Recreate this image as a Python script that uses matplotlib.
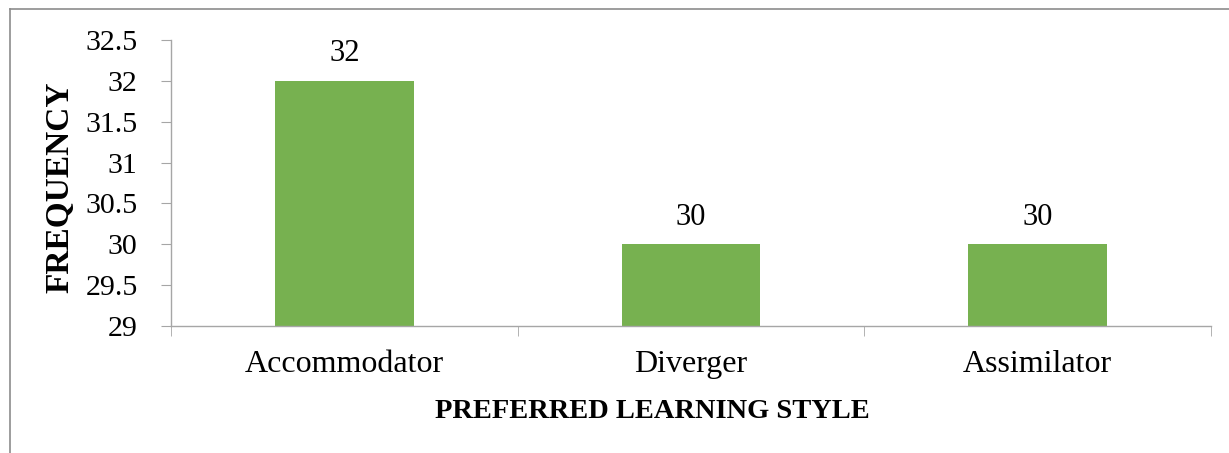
import matplotlib.pyplot as plt
from matplotlib.lines import Line2D
import numpy as np

# datos
estilos = ['Accommodator', 'Diverger', 'Assimilator']
frecuencia = [32, 30, 30]

W, H = 1229, 453
plt.rcParams['font.family'] = ['Liberation Serif', 'DejaVu Serif']

fig = plt.figure(figsize=(W / 100, H / 100), dpi=100)
ax = fig.add_axes([171 / W, 1 - 326 / H, (1211 - 171) / W, (326 - 40) / H])

x = np.arange(len(estilos))
barras = ax.bar(x, frecuencia, width=0.4, bottom=0, color='#77B150', zorder=2)

ax.set_ylim(29, 32.5)
ax.set_xlim(-0.5, len(estilos) - 0.5)
ax.set_yticks(np.arange(29, 32.51, 0.5))
ax.set_yticklabels([f'{v:g}' for v in np.arange(29, 32.51, 0.5)], fontsize=21.5)
ax.set_xticks(x)
ax.set_xticklabels(estilos, fontsize=23)
ax.set_xticks(np.arange(-0.5, len(estilos), 1), minor=True)

gris = '#A6A6A6'
for lado in ['top', 'right']:
    ax.spines[lado].set_visible(False)
for lado in ['left', 'bottom']:
    ax.spines[lado].set_color(gris)
    ax.spines[lado].set_linewidth(1.0)

ax.tick_params(axis='y', length=7, color=gris, pad=17, direction='out')
ax.tick_params(axis='x', which='major', length=0, pad=17)
ax.tick_params(axis='x', which='minor', length=7, color=gris, direction='out')

for xi, v in zip(x, frecuencia):
    ax.annotate(f'{v}', (xi, v), xytext=(0, 14), textcoords='offset points',
                ha='center', va='baseline', fontsize=22)

fig.text(652 / W, 1 - 418 / H, 'PREFERRED LEARNING STYLE', ha='center', va='baseline',
         fontsize=20.5, fontweight='bold')
fig.text(60 / W, 1 - 187 / H, 'FREQUENCY', ha='center', va='center', rotation=90,
         fontsize=24, fontweight='bold')

# borde del gráfico
fig.add_artist(Line2D([10 / W, 10 / W], [0, 1 - 9 / H], color='#8C8C8C', lw=1.2,
                      transform=fig.transFigure))
fig.add_artist(Line2D([10 / W, 1], [1 - 9 / H, 1 - 9 / H], color='#8C8C8C', lw=1.2,
                      transform=fig.transFigure))

fig.savefig('out.png', dpi=100)
